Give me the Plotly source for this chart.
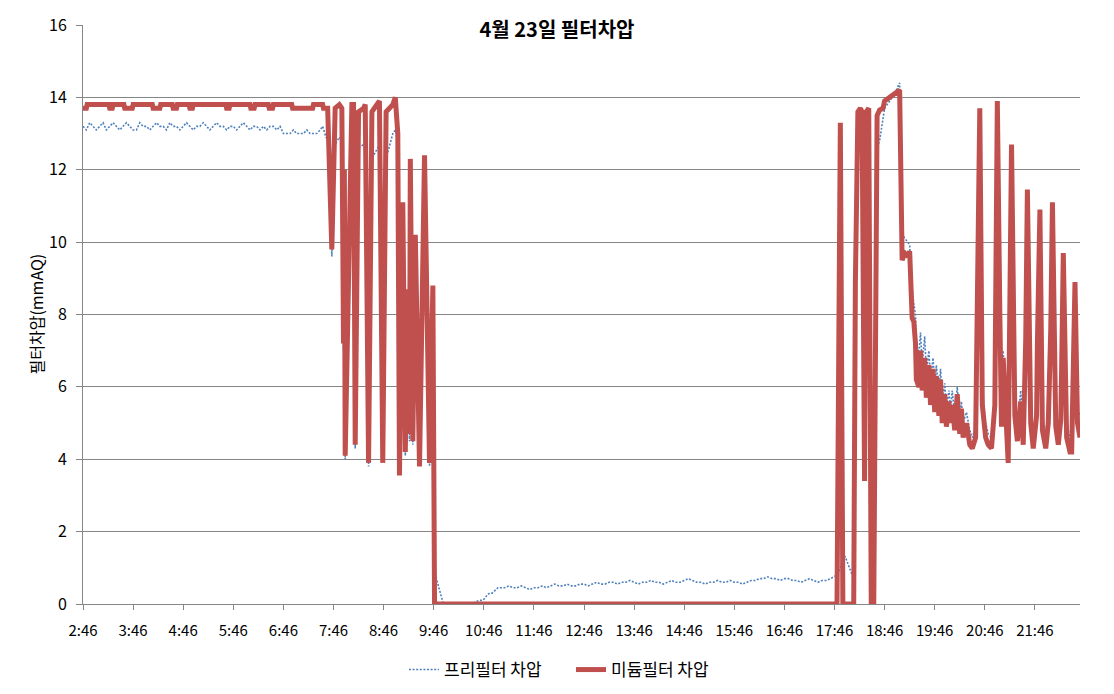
import plotly.graph_objects as go

# ---- axis categories (elapsed minutes after 2:46 and their labels) ----
tick_minutes = [0, 60, 120, 180, 240, 300, 360, 420, 480, 540, 600, 660, 720,
                780, 840, 900, 960, 1020, 1080, 1140]
tick_labels = ["2:46", "3:46", "4:46", "5:46", "6:46", "7:46", "8:46", "9:46",
               "10:46", "11:46", "12:46", "13:46", "14:46", "15:46", "16:46",
               "17:46", "18:46", "19:46", "20:46", "21:46"]
x_end = 1194

# ---- 미듐필터 차압 (medium filter) : elapsed minutes / mmAQ ----
medium_t = [0, 4, 5, 31, 32, 35, 36, 49, 50, 59, 60, 83, 84, 92, 93, 107, 108, 112,
            113, 127, 128, 131, 132, 171, 172, 175, 176, 200, 201, 205, 206, 222,
            223, 227, 228, 250, 251, 275, 276, 287, 288, 293,
            298, 302, 307, 310, 312, 313, 314, 322, 324, 325, 326, 330, 336, 338,
            342, 346, 353, 355, 359, 363, 371, 374, 377, 379, 383, 386, 389, 391,
            392, 395, 398, 403, 409, 415, 419, 420, 421,
            903, 907, 910, 923, 925, 928, 931, 933, 936, 938, 941, 944, 947, 951,
            954, 958, 960, 966, 972, 978, 981, 984, 988, 990, 993, 995, 997, 998,
            1001, 1003, 1005, 1008, 1010, 1013, 1015, 1018, 1020, 1022, 1025, 1027,
            1029, 1032, 1034, 1037, 1039, 1041, 1044, 1047, 1050, 1052, 1054, 1058,
            1062, 1065, 1069, 1071, 1074, 1077, 1081, 1084, 1088, 1092, 1093, 1095,
            1098, 1100, 1102, 1106, 1108, 1112, 1116, 1119, 1123, 1126, 1129, 1131,
            1135, 1138, 1142, 1143, 1146, 1149, 1153, 1156, 1159, 1161, 1165, 1168,
            1171, 1172, 1174, 1178, 1182, 1184, 1185, 1188, 1191, 1194]
medium_v = [13.7, 13.7, 13.8, 13.8, 13.7, 13.7, 13.8, 13.8, 13.7, 13.7, 13.8, 13.8,
            13.7, 13.7, 13.8, 13.8, 13.7, 13.7, 13.8, 13.8, 13.7, 13.7, 13.8, 13.8,
            13.7, 13.7, 13.8, 13.8, 13.7, 13.7, 13.8, 13.8, 13.7, 13.7, 13.8, 13.8,
            13.7, 13.7, 13.8, 13.8, 13.7, 13.7,
            9.8, 13.7, 13.8, 13.7, 7.2, 12.0, 4.1, 13.8, 13.8, 8.6, 4.4, 13.6, 13.7,
            13.8, 3.9, 13.6, 13.8, 13.9, 3.9, 13.6, 13.8, 14.0, 13.0, 3.55, 11.1,
            4.2, 8.7, 4.7, 12.3, 4.5, 10.2, 3.8, 12.4, 3.9, 8.8, 5.0, 0.0,
            0.0, 13.3, 0.0, 0.0, 8.9, 13.6, 13.7, 13.6, 3.4, 13.6, 13.7, 0.0, 0.0,
            13.5, 13.65, 13.7, 13.9, 14.0, 14.1, 14.2, 9.5, 9.7, 9.6, 9.75, 7.9, 7.8,
            7.2, 6.2, 6.0, 7.0, 5.9, 6.8, 5.7, 6.6, 5.5, 6.5, 5.3, 6.3, 5.2, 6.2,
            5.0, 5.8, 4.9, 5.6, 5.0, 5.5, 4.8, 5.8, 4.7, 5.4, 4.6, 5.0, 4.4, 4.3,
            4.6, 9.1, 13.7, 5.5, 4.6, 4.4, 4.3, 5.5, 8.7, 13.9, 8.0, 4.9, 6.8, 4.6,
            3.9, 12.7, 5.2, 4.5, 5.6, 4.4, 7.3, 11.45, 5.0, 4.3, 5.2, 7.2, 10.9,
            4.8, 4.3, 5.0, 7.6, 11.1, 4.9, 4.4, 5.1, 6.5, 9.7, 4.6, 4.2, 4.2, 6.0,
            8.9, 5.0, 4.6]

# ---- 프리필터 차압 (pre filter) : elapsed minutes / mmAQ ----
pre_t = [0, 4, 8, 12, 16, 20, 24, 28, 32, 36, 40, 44, 48, 52, 56, 60, 64, 68, 72,
         76, 80, 84, 88, 92, 96, 100, 104, 108, 112, 116, 120, 124, 128, 132, 136,
         140, 144, 148, 152, 156, 160, 164, 168, 172, 176, 180, 184, 188, 192, 196,
         200, 204, 208, 212, 216, 220, 224, 228, 232, 236, 240, 244, 248, 252, 256,
         260, 264, 268, 272, 276, 280, 284,
         287, 291, 294, 298, 302, 307, 310, 312, 313, 314, 322, 324, 325, 326, 330,
         336, 338, 342, 346, 353, 355, 359, 363, 371, 374, 377, 379, 383, 386, 389,
         391, 392, 395, 398, 403, 409, 415, 419, 420,
         422, 425, 428, 431, 433, 466, 470, 474, 478, 481, 484, 487, 490, 494, 497,
         500, 505, 510, 515, 520, 525, 530, 535, 540, 545, 550, 555, 560, 565, 570,
         575, 580, 585, 590, 595, 600, 605, 610, 615, 620, 625, 630, 635, 640, 645,
         650, 655, 660, 665, 670, 675, 680, 685, 690, 695, 700, 705, 710, 715, 720,
         725, 730, 735, 740, 745, 750, 755, 760, 765, 770, 775, 780, 785, 790, 795,
         800, 805, 810, 815, 820, 825, 830, 835, 840, 845, 850, 855, 860, 865, 870,
         875, 880, 885, 890, 895, 900,
         903, 907, 910, 913, 916, 919, 922, 925, 928, 931, 933, 936, 938, 941, 944,
         947, 951, 954, 958, 960, 966, 972, 978, 981, 984, 988, 990, 993, 995, 997,
         998, 1001, 1003, 1005, 1008, 1010, 1013, 1015, 1018, 1020, 1022, 1025,
         1027, 1029, 1032, 1034, 1037, 1039, 1041, 1044, 1047, 1050, 1052, 1054,
         1058, 1062, 1065, 1069, 1071, 1074, 1077, 1081, 1084, 1088, 1092, 1093,
         1095, 1098, 1100, 1102, 1106, 1108, 1112, 1116, 1119, 1123, 1126, 1129,
         1131, 1135, 1138, 1142, 1143, 1146, 1149, 1153, 1156, 1159, 1161, 1165,
         1168, 1171, 1172, 1174, 1178, 1182, 1184, 1185, 1188, 1191, 1194]
pre_v = [13.2, 13.1, 13.3, 13.2, 13.1, 13.2, 13.3, 13.1, 13.2, 13.3,
         13.2, 13.1, 13.2, 13.3, 13.2, 13.1, 13.1, 13.3, 13.2, 13.2,
         13.1, 13.2, 13.3, 13.2, 13.2, 13.1, 13.3, 13.2, 13.2, 13.1,
         13.2, 13.3, 13.2, 13.1, 13.2, 13.2, 13.3, 13.2, 13.1, 13.2,
         13.3, 13.2, 13.2, 13.1, 13.2, 13.2, 13.1, 13.2, 13.3, 13.2,
         13.1, 13.2, 13.2, 13.1, 13.2, 13.1, 13.2, 13.2, 13.1, 13.2,
         13.0, 13.0, 13.0, 13.1, 13.0, 13.0, 13.0, 13.1, 13.0, 13.0,
         13.0, 13.1,
         13.2, 12.9, 12.8, 9.6, 12.7, 12.9, 12.8, 7.0, 11.5, 4.0, 12.8, 12.8, 8.4,
         4.3, 12.6, 12.7, 12.8, 3.8, 12.3, 12.6, 12.7, 3.9, 12.3, 13.0, 13.1, 12.8,
         3.6, 11.0, 4.1, 8.6, 4.5, 12.1, 4.4, 10.0, 3.8, 12.2, 3.8, 8.6, 4.8,
         0.8, 0.55, 0.3, 0.05, 0.0, 0.0, 0.05, 0.1, 0.1, 0.15, 0.25, 0.3, 0.3, 0.4,
         0.45,
         0.45, 0.45, 0.5, 0.45, 0.45, 0.5, 0.45, 0.4, 0.45, 0.45, 0.5, 0.45,
         0.5, 0.55, 0.5, 0.5, 0.55, 0.5, 0.5, 0.55, 0.55, 0.5, 0.55, 0.6, 0.55,
         0.55, 0.6,
         0.6, 0.55, 0.6, 0.6, 0.65, 0.6, 0.55, 0.6, 0.6, 0.65, 0.6, 0.6, 0.55, 0.6,
         0.65, 0.6, 0.6, 0.65, 0.7, 0.65, 0.6, 0.6, 0.55, 0.6, 0.6, 0.65, 0.6, 0.6,
         0.65, 0.6, 0.6, 0.55, 0.6, 0.65, 0.65,
         0.7, 0.7, 0.75, 0.7, 0.7, 0.65, 0.7, 0.7,
         0.65, 0.65, 0.6, 0.65, 0.7, 0.65, 0.6, 0.65, 0.65, 0.7, 0.75,
         0.8, 1.0, 1.25, 1.3, 1.1, 0.9, 0.75, 7.5, 12.6, 12.9, 12.6, 3.6, 12.7,
         12.9, 0.4, 0.4, 12.6, 12.8, 13.5, 13.7, 13.9, 14.1, 14.4, 10.3, 10.1,
         10.0, 9.9, 8.7, 8.3, 8.0, 7.2, 6.9, 7.5, 6.6, 7.4, 6.4, 7.0, 6.2, 6.8,
         6.0, 6.6, 5.8, 6.5, 5.6, 6.1, 5.4, 5.9, 5.4, 5.9, 5.2, 6.0, 5.1, 5.6,
         5.0, 5.3, 4.8, 4.6, 4.9, 9.0, 13.5, 6.0, 5.0, 4.7, 4.6, 5.8, 8.6, 13.7,
         8.3, 5.3, 7.0, 5.0, 4.3, 12.5, 5.6, 4.9, 5.9, 4.8, 7.4, 11.3, 5.4, 4.7,
         5.5, 7.3, 10.8, 5.2, 4.7, 5.3, 7.6, 11.0, 5.3, 4.8, 5.4, 6.6, 9.6, 5.0,
         4.6, 4.6, 6.1, 8.8, 5.4, 5.2]

FONT = "Noto Sans CJK KR"
GRID = "#868686"

fig = go.Figure()
fig.add_trace(go.Scatter(
    x=pre_t, y=pre_v, mode="lines", name="프리필터 차압",
    line=dict(color="#4F81BD", width=1.6, dash="2px,1.6px")))
fig.add_trace(go.Scatter(
    x=medium_t, y=medium_v, mode="lines", name="미듐필터 차압",
    line=dict(color="#C0504D", width=5), cliponaxis=False))

fig.update_layout(
    width=1114, height=694,
    margin=dict(l=83, r=34, t=22, b=87),
    paper_bgcolor="white", plot_bgcolor="white",
    font=dict(family=FONT, size=15, color="black"),
    title=dict(text="<b>4월 23일 필터차압</b>", x=0.5, xref="container",
               xanchor="center", y=1 - 30 / 694, yref="container",
               yanchor="middle", font=dict(family=FONT, size=20, color="black")),
    xaxis=dict(range=[0, x_end], tickvals=tick_minutes, ticktext=tick_labels,
               showline=True, linecolor=GRID, linewidth=1, ticks="outside",
               ticklen=5, tickcolor=GRID, showgrid=False, zeroline=False,
               ticklabelstandoff=8, tickfont=dict(size=15)),
    yaxis=dict(range=[0, 16], dtick=2, showgrid=True, gridcolor=GRID,
               gridwidth=1, showline=True, linecolor=GRID, linewidth=1,
               ticks="outside", ticklen=6, tickcolor=GRID, zeroline=False,
               ticklabelstandoff=6, tickfont=dict(size=16)),
    legend=dict(orientation="h", x=0.5 + 14 / 1114, xref="container",
                xanchor="center", y=24 / 694, yref="container",
                yanchor="middle", font=dict(size=17), itemwidth=30,
                entrywidth=122),
    showlegend=True,
    annotations=[dict(text="필터차압(mmAQ)", x=-48 / 997, xref="paper",
                      y=0.5, yref="paper", textangle=-90, showarrow=False,
                      xanchor="center", yanchor="middle",
                      font=dict(family=FONT, size=16, color="black"))],
)

fig.write_html("out.html")
